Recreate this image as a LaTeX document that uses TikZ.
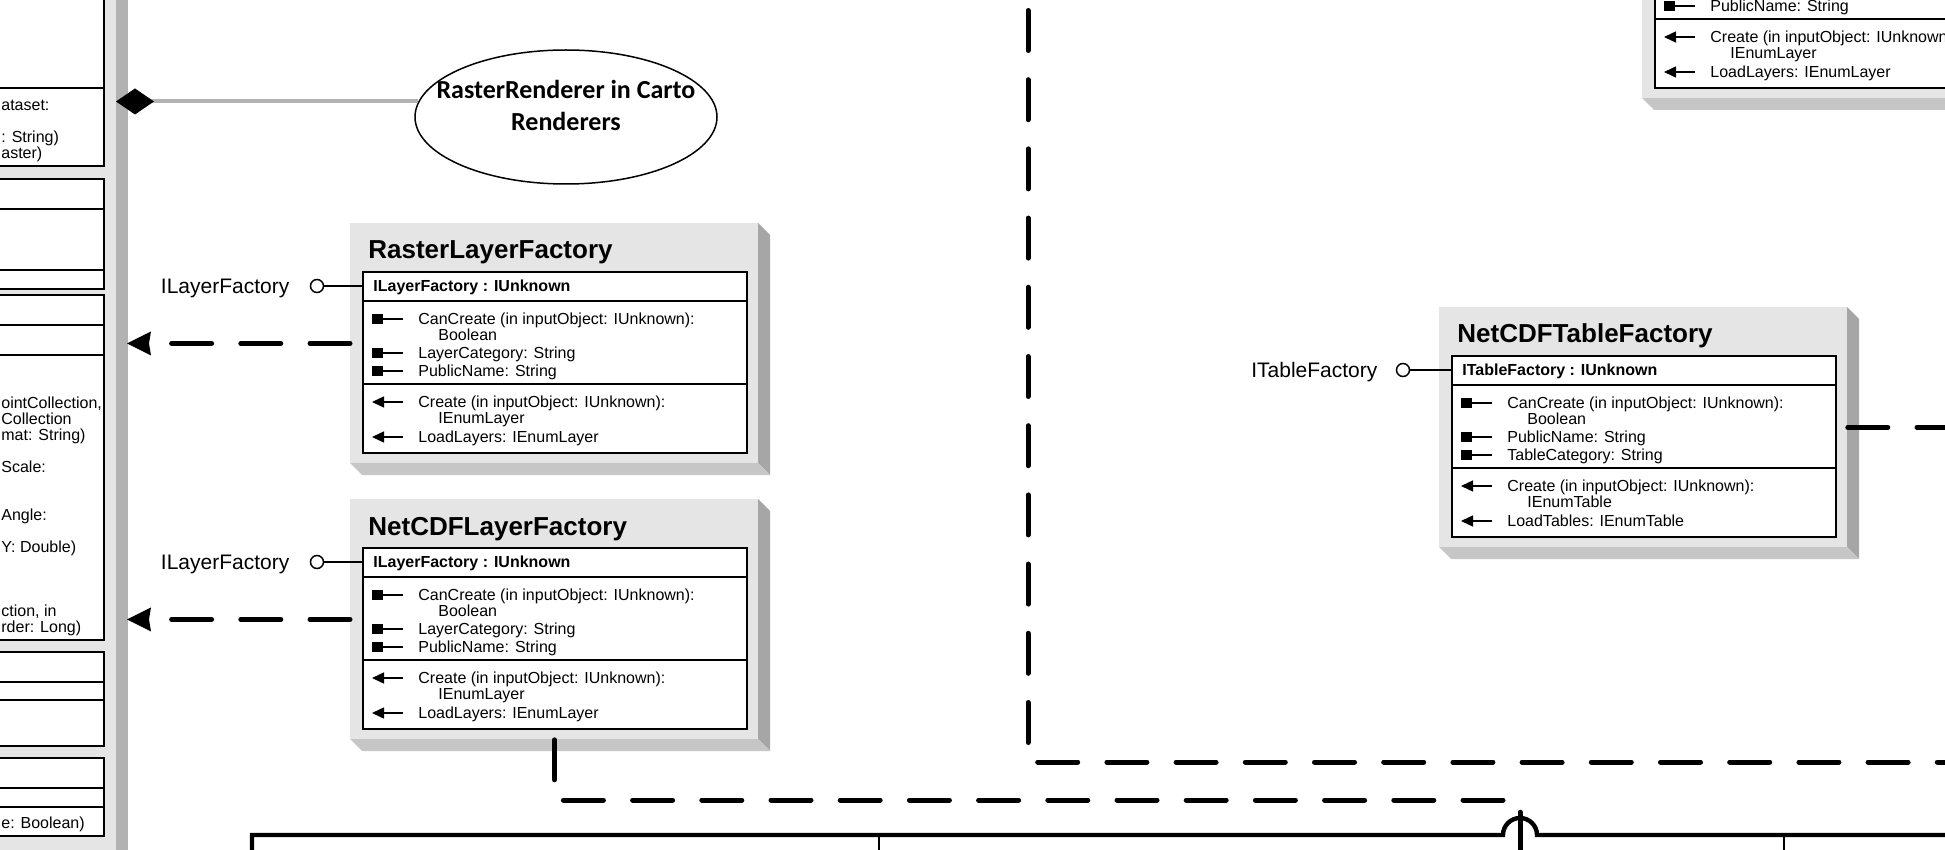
\documentclass[tikz,border=0pt]{standalone}
\usepackage{fontspec}
\setmainfont{Liberation Sans}
\newfontfamily\calibri{Carlito}
\usetikzlibrary{positioning,arrows.meta,shapes.geometric}

\tikzset{
	panel/.style={fill=gray!20, inner sep=0pt, minimum width=204pt, minimum height=120pt, anchor=north west},
	body/.style={fill=white, draw=black, line width=1pt, inner sep=0pt, minimum width=192pt, minimum height=90.5pt, anchor=north west},
	divider/.style={line width=1pt},
	title/.style={font=\fontsize{13}{15}\selectfont\bfseries, anchor=base west, inner sep=0pt},
	hdr/.style={font=\fontsize{8}{9}\selectfont\bfseries, anchor=west, inner sep=0pt, text height=5.7pt, text depth=0pt},
	row/.style={font=\fontsize{8}{9}\selectfont, anchor=west, inner sep=0pt, text height=5.7pt, text depth=0pt},
	cut/.style={row, anchor=west},
	iface/.style={font=\fontsize{10.5}{12}\selectfont, inner sep=0pt, text height=7.5pt, text depth=0pt},
	lolli/.style={draw, circle, fill=white, line width=0.75pt, minimum size=6.5pt, inner sep=0pt},
	icon/.style={line width=0.75pt},
	dep/.style={line width=2.5pt, line cap=round, dash pattern=on 20pt off 14.6pt},
	realize/.style={dep, -{Stealth[length=12pt, width=12pt, inset=1pt, line width=0pt]}},
	agg/.style={draw=gray!60, line width=2pt, -{Diamond[length=19pt, width=13pt, color=black, fill=black, line width=0pt]}},
	heavy/.style={line width=2.2pt},
}

% class box: shaded panel, white body, two dividers
\newcommand{\umlpanel}[1]{%
	\fill[gray!70] (408,0) -- (420,12) -- (420,252) -- (408,240) -- cycle;
	\fill[gray!45] (0,240) -- (408,240) -- (420,252) -- (12,252) -- cycle;
	\node[panel] (#1) at (0,0) {};
	\node[body] (#1-b) at (12,48) {};
	\draw[divider] (12,78) -- (396,78);
	\draw[divider] (12,161) -- (396,161);}
\newcommand{\umlattr}[3]{%
	\fill (22,#2-5) rectangle (33,#2+5);
	\draw[icon] (33,#2) -- (53,#2);
	\node[row] (#1) at (68,#2) {#3};}
\newcommand{\umlop}[3]{%
	\draw[icon, -{Triangle[length=6pt, width=5.5pt]}] (53,#2) -- (22,#2);
	\node[row] (#1) at (68,#2) {#3};}
\newcommand{\umlmore}[3]{\node[row] (#1) at (88,#2) {#3};}

\begin{document}
\begin{tikzpicture}[x=0.5pt, y=-0.5pt]
	\useasboundingbox (0,0) rectangle (1945,850);
	\clip (0,0) rectangle (1945,850);

	% left column of classes
	\fill[gray!20] (-20,-20) rectangle (116,880);
	\fill[gray!60] (116,-20) rectangle (128,880);
	\foreach \ya/\yb in {-20/88, 88/166, 179/209, 209/270, 270/289, 295/325, 325/355, 355/640, 652/682, 682/700, 700/746, 758/788, 788/807, 807/836}
		\draw[line width=1pt, fill=white] (-20,\ya) rectangle (104,\yb);
	\node[cut] (f1) at (1,105) {ataset:};
	\node[cut] (f2) at (1,137) {: String)};
	\node[cut] (f3) at (1,153) {aster)};
	\node[cut] (f4) at (1,403) {ointCollection,};
	\node[cut] (f5) at (1,419) {Collection};
	\node[cut] (f6) at (1,435) {mat: String)};
	\node[cut] (f7) at (1,467) {Scale:};
	\node[cut] (f8) at (1,515) {Angle:};
	\node[cut] (f9) at (1,547) {Y: Double)};
	\node[cut] (f10) at (1,611) {ction, in};
	\node[cut] (f11) at (1,627) {rder: Long)};
	\node[cut] (f12) at (1,823) {e: Boolean)};
	\coordinate (barL) at (116,0);
	\coordinate (barR) at (127,0);

	% renderer
	\node[draw, ellipse, line width=0.75pt, minimum width=151pt, minimum height=67pt, inner sep=0pt] (rr) at (566,117) {};
	\node[font=\calibri\bfseries\fontsize{13}{16}\selectfont, align=center, inner sep=0pt] (rr-txt) at (566,105) {RasterRenderer in Carto\\Renderers};
	\draw[agg] (rr.174) -- (rr.174 -| barL);

	\begin{scope}[shift={(350,223)}]
		\umlpanel{rlf}
		\node[title] (rlf-t) at (18,36) {RasterLayerFactory};
		\node[hdr] (rlf-h) at (23,63) {ILayerFactory : IUnknown};
		\umlattr{rlf-a1}{96}{CanCreate (in inputObject: IUnknown):}
		\umlmore{rlf-a1x}{112}{Boolean}
		\umlattr{rlf-a2}{130}{LayerCategory: String}
		\umlattr{rlf-a3}{148}{PublicName: String}
		\umlop{rlf-o1}{179}{Create (in inputObject: IUnknown):}
		\umlmore{rlf-o1x}{195}{IEnumLayer}
		\umlop{rlf-o2}{214}{LoadLayers: IEnumLayer}
		\node[lolli] (rlf-c) at (-33,63) {};
		\draw[icon] (rlf-c) -- (rlf-b.west |- rlf-c);
		\node[iface, left=10pt of rlf-c] (rlf-i) {ILayerFactory};
	\end{scope}

	\begin{scope}[shift={(350,499)}]
		\umlpanel{ncl}
		\node[title] (ncl-t) at (18,36) {NetCDFLayerFactory};
		\node[hdr] (ncl-h) at (23,63) {ILayerFactory : IUnknown};
		\umlattr{ncl-a1}{96}{CanCreate (in inputObject: IUnknown):}
		\umlmore{ncl-a1x}{112}{Boolean}
		\umlattr{ncl-a2}{130}{LayerCategory: String}
		\umlattr{ncl-a3}{148}{PublicName: String}
		\umlop{ncl-o1}{179}{Create (in inputObject: IUnknown):}
		\umlmore{ncl-o1x}{195}{IEnumLayer}
		\umlop{ncl-o2}{214}{LoadLayers: IEnumLayer}
		\node[lolli] (ncl-c) at (-33,63) {};
		\draw[icon] (ncl-c) -- (ncl-b.west |- ncl-c);
		\node[iface, left=10pt of ncl-c] (ncl-i) {ILayerFactory};
	\end{scope}

	\begin{scope}[shift={(1439,307)}]
		\umlpanel{nct}
		\node[title] (nct-t) at (18,36) {NetCDFTableFactory};
		\node[hdr] (nct-h) at (23,63) {ITableFactory : IUnknown};
		\umlattr{nct-a1}{96}{CanCreate (in inputObject: IUnknown):}
		\umlmore{nct-a1x}{112}{Boolean}
		\umlattr{nct-a2}{130}{PublicName: String}
		\umlattr{nct-a3}{148}{TableCategory: String}
		\umlop{nct-o1}{179}{Create (in inputObject: IUnknown):}
		\umlmore{nct-o1x}{195}{IEnumTable}
		\umlop{nct-o2}{214}{LoadTables: IEnumTable}
		\node[lolli] (nct-c) at (-36,63) {};
		\draw[icon] (nct-c) -- (nct-b.west |- nct-c);
		\node[iface, left=9pt of nct-c] (nct-i) {ITableFactory};
	\end{scope}

	\begin{scope}[shift={(1642,-142)}]
		\umlpanel{upr}
		\umlattr{upr-a3}{148}{PublicName: String}
		\umlop{upr-o1}{179}{Create (in inputObject: IUnknown}
		\umlmore{upr-o1x}{195}{IEnumLayer}
		\umlop{upr-o2}{214}{LoadLayers: IEnumLayer}
	\end{scope}

	% connectors
	\draw[realize] (rlf.west) -- (rlf.west -| barR);
	\draw[realize] (ncl.west) -- (ncl.west -| barR);
	\coordinate (bend) at (1520,800);
	\coordinate (below) at (1520,880);
	\draw[dep] (ncl.south) |- (bend) -- (below);
	\coordinate (above) at (1028,-58.7);
	\coordinate (corner) at (1028,762);
	\coordinate (offright) at (2000,762);
	\draw[dep] (above) -- (corner) -- (offright);
	\coordinate (edge) at (2000,0);
	\draw[dep] (nct.east) -- (nct.east -| edge);

	% package frame below
	\draw[heavy] (252,880) -- (252,835) -- (1503,835) arc[start angle=180, end angle=0, radius=8.5pt] -- (2000,835);
	\draw[line width=1.2pt] (879,835) -- (879,880);
	\draw[line width=1.2pt] (1784,835) -- (1784,880);
\end{tikzpicture}
\end{document}
